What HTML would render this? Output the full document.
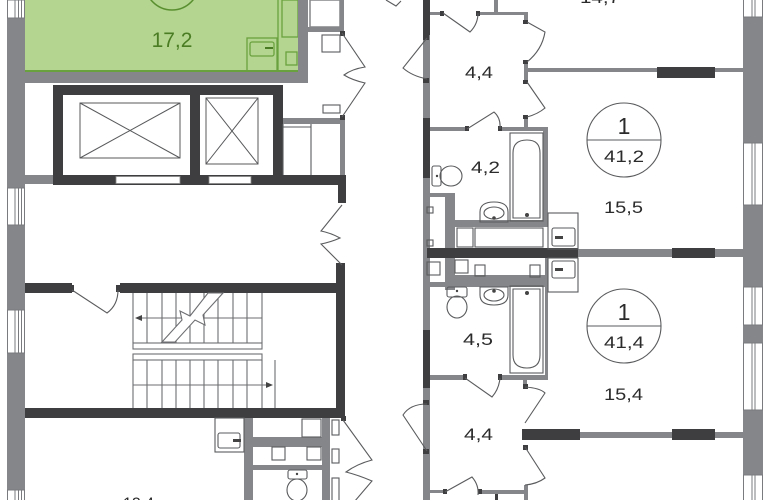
<!DOCTYPE html>
<html><head><meta charset="utf-8"><style>
html,body{margin:0;padding:0;background:#fff;}
svg{display:block;}
text{font-family:"Liberation Sans",Arial,sans-serif;}
</style></head><body>
<svg width="770" height="500" viewBox="0 0 770 500" xmlns="http://www.w3.org/2000/svg">
<rect width="770" height="500" fill="#fff"/>

<!-- GREEN ROOM -->
<rect x="23" y="0" width="277" height="72" fill="#b3d58f"/>
<path d="M24,0 V71 H300" fill="none" stroke="#6aa13f" stroke-width="2"/>
<circle cx="172" cy="-17" r="27" fill="none" stroke="#5a8f30" stroke-width="1.5"/>
<text x="172" y="47" font-size="21" text-anchor="middle" fill="#4a7c23">17,2</text>
<g fill="none" stroke="#6aa13f" stroke-width="1.3">
<line x1="278" y1="0" x2="278" y2="72"/>
<rect x="282" y="0" width="16" height="37"/>
<rect x="247" y="38" width="30" height="34"/>
<rect x="250" y="42" width="24" height="14" rx="2"/>
<rect x="286" y="52" width="11" height="13"/>
</g>
<line x1="265" y1="48" x2="273" y2="48" stroke="#4a7c23" stroke-width="2"/>

<!-- GREY WALLS -->
<g fill="#848689">
<rect x="7" y="0" width="18" height="500"/>
<rect x="23" y="72" width="285" height="11"/>
<rect x="298" y="0" width="10" height="83"/>
<rect x="308" y="27" width="35" height="5"/>
<rect x="340" y="0" width="4" height="33"/>
<rect x="25" y="175" width="37" height="9"/>
<rect x="283" y="118" width="62" height="6"/>
<rect x="340" y="118" width="5" height="57"/>
<!-- lower left bath walls -->
<rect x="244" y="418" width="9" height="82"/>
<rect x="322" y="418" width="8" height="82"/>
<rect x="253" y="437" width="69" height="10"/>
<rect x="253" y="465" width="69" height="5"/>
<!-- right apartments -->
<rect x="423" y="0" width="7" height="500"/>
<rect x="430" y="12" width="13" height="3"/>
<rect x="478" y="12" width="49" height="3"/>
<rect x="494" y="0" width="4" height="12"/>
<rect x="524" y="12" width="4" height="10"/>
<rect x="524" y="62" width="4" height="20"/>
<rect x="524" y="117" width="4" height="12"/>
<rect x="527" y="68" width="216" height="4"/>
<rect x="430" y="127" width="37" height="4"/>
<rect x="500" y="127" width="48" height="4"/>
<rect x="543" y="127" width="5" height="95"/>
<rect x="430" y="193" width="25" height="4"/>
<rect x="445" y="193" width="10" height="97"/>
<rect x="455" y="220" width="93" height="7"/>
<rect x="578" y="249" width="165" height="8"/>
<rect x="455" y="275" width="90" height="7"/>
<rect x="427" y="282" width="121" height="5"/>
<rect x="545" y="258" width="3" height="122"/>
<rect x="430" y="375" width="35" height="5"/>
<rect x="500" y="375" width="48" height="5"/>
<rect x="523" y="380" width="4" height="7"/>
<rect x="580" y="432" width="163" height="6"/>
<rect x="524" y="485" width="4" height="15"/>
<rect x="430" y="490" width="15" height="3"/>
<rect x="480" y="490" width="44" height="4"/>
<!-- right outer wall -->
<rect x="743" y="0" width="20" height="500"/>
</g>

<!-- WINDOWS -->
<g fill="#fff" stroke="#7a7b7e" stroke-width="1">
<rect x="7.5" y="0" width="17" height="18"/>
<rect x="7.5" y="188" width="17" height="37"/>
<rect x="7.5" y="310" width="17" height="43"/>
<rect x="7.5" y="490" width="17" height="12"/>
<rect x="743.5" y="-1" width="19" height="18"/>
<rect x="743.5" y="143" width="19" height="62"/>
<rect x="743.5" y="287" width="19" height="38"/>
<rect x="743.5" y="343" width="19" height="67"/>
<rect x="743.5" y="475" width="19" height="27"/>
</g>
<g stroke="#7a7b7e" stroke-width="1">
<path d="M15,0 V18 M18.5,0 V18 M21.5,0 V18 M15,188 V225 M18.5,188 V225 M21.5,188 V225 M15,310 V353 M18.5,310 V353 M21.5,310 V353 M15,490 V500 M18.5,490 V500 M21.5,490 V500"/>
<path d="M752,0 V17 M755,0 V17 M752,143 V205 M755,143 V205 M752,287 V325 M755,287 V325 M752,343 V410 M755,343 V410 M752,475 V500 M755,475 V500"/>
</g>

<!-- DARK WALLS -->
<g fill="#3e3e40">
<rect x="53" y="85" width="230" height="100"/>
<rect x="62" y="175" width="283" height="10"/>
<rect x="338" y="175" width="8" height="28"/>
<rect x="25" y="283" width="47" height="10"/>
<rect x="120" y="283" width="225" height="10"/>
<rect x="336" y="263" width="9" height="155"/>
<rect x="25" y="408" width="320" height="10"/>
<rect x="423" y="0" width="7" height="35"/>
<rect x="423" y="118" width="7" height="60"/>
<rect x="423" y="330" width="7" height="58"/>
<rect x="657" y="67" width="58" height="11"/>
<rect x="427" y="248" width="151" height="10"/>
<rect x="672" y="248" width="43" height="10"/>
<rect x="522" y="429" width="58" height="11"/>
<rect x="672" y="429" width="43" height="11"/>
<!-- hinges -->
<rect x="340" y="31" width="5" height="5"/>
<rect x="340" y="115" width="5" height="5"/>
<rect x="69" y="285" width="5" height="7"/>
<rect x="116" y="285" width="5" height="7"/>
<rect x="423" y="35" width="6" height="5"/>
<rect x="423" y="78" width="6" height="5"/>
<rect x="440" y="11" width="4" height="5"/>
<rect x="476" y="11" width="4" height="5"/>
<rect x="523" y="20" width="5" height="4"/>
<rect x="523" y="60" width="5" height="4"/>
<rect x="523" y="80" width="5" height="4"/>
<rect x="523" y="115" width="5" height="4"/>
<rect x="465" y="126" width="4" height="5"/>
<rect x="498" y="126" width="4" height="5"/>
<rect x="423" y="400" width="6" height="5"/>
<rect x="423" y="449" width="6" height="5"/>
<rect x="463" y="374" width="4" height="6"/>
<rect x="498" y="374" width="4" height="6"/>
<rect x="523" y="384" width="5" height="5"/>
<rect x="523" y="445" width="5" height="5"/>
<rect x="443" y="489" width="4" height="5"/>
<rect x="478" y="489" width="4" height="5"/>
<rect x="495" y="494" width="3" height="6"/>
<rect x="341" y="416" width="5" height="5"/>
</g>

<!-- ELEVATOR SHAFTS -->
<rect x="63" y="95" width="127" height="80" fill="#fff"/>
<rect x="200" y="95" width="73" height="80" fill="#fff"/>
<rect x="116" y="176.5" width="64" height="7" fill="#fff" stroke="#888" stroke-width=".8"/>
<rect x="209" y="176.5" width="42" height="7" fill="#fff" stroke="#888" stroke-width=".8"/>
<g stroke="#58595b" stroke-width="1" fill="none">
<rect x="80" y="103" width="100" height="55"/>
<path d="M80,103 L180,158 M180,103 L80,158"/>
<rect x="206" y="98" width="52" height="66"/>
<path d="M206,98 L258,164 M258,98 L206,164"/>
</g>

<!-- THIN LINES / FIXTURES -->
<g fill="none" stroke="#5a5b5d" stroke-width="1.1">
<rect x="310" y="0" width="30" height="27" stroke="#848689" stroke-width="1.5"/>
<rect x="322" y="35" width="18" height="17"/>
<rect x="323" y="105" width="17" height="8"/>
<line x1="283" y1="124" x2="283" y2="175"/>
<line x1="311" y1="124" x2="311" y2="175"/>
<line x1="283" y1="127" x2="311" y2="127"/>

<!-- double doors -->
<path d="M342,33 L365,67 Q352,69 344,75 Q352,80 365,83 L342,117"/>
<path d="M342,205 L321,231 Q331,233 340,238 Q331,242 321,244 L342,265"/>
<path d="M343,420 L372,460 Q357,464 346,472 Q358,475 372,481 L343,515"/>
<path d="M72,290 L107,313 Q118,305 118,290"/>
<path d="M386,0 L396,6 L401,1"/>

<!-- stairs -->
<g stroke="#6d6e71">
<path d="M133,293 V343 M147,293 V343 M162,293 V343 M176,293 V343 M190,293 V343 M204,293 V343 M218,293 V343 M233,293 V343 M247,293 V343 M262,293 V343"/>
<path d="M133,360 V408 M147,360 V408 M162,360 V408 M176,360 V408 M190,360 V408 M204,360 V408 M218,360 V408 M233,360 V408 M247,360 V408 M262,360 V408"/>
<path d="M137,318 H262 M133,385 H270 M275,360 V408"/>
<rect x="133" y="343" width="129" height="6"/>
<rect x="133" y="354" width="129" height="6"/>
</g>
<path d="M162,342 L182,320 L180,311 L190,316 L208,293 L223,293 L203,315 L205,325 L195,320 L175,342 Z" fill="#fff" stroke="#6d6e71"/>

<!-- lower-left bath -->
<rect x="215" y="418" width="29" height="34"/>
<rect x="218" y="433" width="22" height="15" rx="2"/>
<rect x="302" y="419" width="19" height="18"/>
<rect x="272" y="447" width="13" height="13"/>
<rect x="307" y="447" width="14" height="13"/>
<rect x="288" y="470" width="19" height="9" rx="2"/>
<ellipse cx="297" cy="490" rx="10" ry="11"/>
<rect x="332" y="420" width="7" height="15"/>
<rect x="332" y="449" width="7" height="14"/>
<rect x="332" y="478" width="7" height="24"/>

<!-- right apartment doors -->
<path d="M427,38 L403,68 Q412,76 427,79"/>
<path d="M443,13 L470,32 Q478,24 478,13"/>
<path d="M527,22 L545,32 Q542,50 527,62"/>
<path d="M527,82 L545,108 Q538,114 527,117"/>
<path d="M467,129 L494,112 Q501,118 500,129"/>
<path d="M427,404 Q410,404 403,415 L427,451"/>
<path d="M465,378 L492,397 Q499,389 500,378"/>
<path d="M525,387 Q540,388 545,393 L525,423"/>
<path d="M525,447 L545,478 Q537,484 525,485"/>
<path d="M445,492 L472,477 Q479,485 478,495"/>

<!-- bath 1 -->
<rect x="510" y="133" width="33" height="88"/>
<path d="M513,218 V153 Q513,140 527,140 Q540,140 540,153 V218 Z"/>
<rect x="432" y="166" width="9" height="20" rx="2"/>
<ellipse cx="451" cy="176" rx="11" ry="10"/>
<path d="M480,222 V212 Q480,202 494,202 Q508,202 508,212 V222 Z"/>
<ellipse cx="494" cy="213" rx="10" ry="6"/>
<rect x="427" y="207" width="6" height="6"/>
<rect x="427" y="240" width="6" height="6"/>
<rect x="457" y="228" width="16" height="19"/>
<rect x="475" y="228" width="68" height="19"/>
<rect x="548" y="213" width="30" height="36"/>
<rect x="552" y="228" width="23" height="18" rx="2"/>

<!-- below mid wall -->
<rect x="427" y="262" width="13" height="13"/>
<rect x="455" y="260" width="13" height="13"/>
<rect x="475" y="265" width="10" height="11"/>
<rect x="530" y="265" width="10" height="12"/>
<rect x="548" y="258" width="30" height="34"/>
<rect x="552" y="261" width="23" height="17" rx="2"/>

<!-- bath 2 -->
<rect x="510" y="286" width="33" height="87"/>
<path d="M513,289 H540 V355 Q540,368 527,368 Q513,368 513,355 Z"/>
<rect x="447" y="287" width="20" height="10" rx="2"/>
<ellipse cx="457" cy="307" rx="10" ry="11"/>
<path d="M480,287 H508 V295 Q508,305 494,305 Q480,305 480,295 Z"/>
<ellipse cx="494" cy="295" rx="10" ry="6"/>

<!-- circles -->
<circle cx="624" cy="140" r="37"/>
<line x1="587" y1="140" x2="661" y2="140"/>
<circle cx="624" cy="326" r="37"/>
<line x1="587" y1="326" x2="661" y2="326"/>
</g>

<!-- small dark details -->
<g fill="#444">
<circle cx="527" cy="215" r="2"/>
<circle cx="527" cy="293" r="2"/>
<circle cx="494" cy="218" r="1.8"/>
<circle cx="494" cy="291" r="1.8"/>
<circle cx="437" cy="176" r="1.2"/>
<circle cx="457" cy="291" r="1.2"/>
<circle cx="297" cy="474" r="1.2"/>
<rect x="233" y="439" width="8" height="3"/>
<rect x="555" y="236" width="8" height="3"/>
<rect x="555" y="268" width="8" height="3"/>
<path d="M135,318 L142,315 L142,321 Z"/>
<path d="M273,385 L266,382 L266,388 Z"/>
</g>

<!-- LABELS -->
<g font-size="17" fill="#2b2b2b" lengthAdjust="spacingAndGlyphs">
<text x="580" y="3" textLength="40" lengthAdjust="spacingAndGlyphs">14,7</text>
<text x="465" y="78" textLength="28" lengthAdjust="spacingAndGlyphs">4,4</text>
<text x="471" y="173" textLength="29" lengthAdjust="spacingAndGlyphs">4,2</text>
<text x="604" y="213" textLength="39" lengthAdjust="spacingAndGlyphs">15,5</text>
<text x="604" y="162" textLength="40" lengthAdjust="spacingAndGlyphs">41,2</text>
<text x="624" y="134" font-size="23" text-anchor="middle">1</text>
<text x="624" y="320" font-size="23" text-anchor="middle">1</text>
<text x="604" y="348" textLength="40" lengthAdjust="spacingAndGlyphs">41,4</text>
<text x="463" y="345" textLength="30" lengthAdjust="spacingAndGlyphs">4,5</text>
<text x="604" y="400" textLength="39" lengthAdjust="spacingAndGlyphs">15,4</text>
<text x="464" y="440" textLength="29" lengthAdjust="spacingAndGlyphs">4,4</text>
<text x="123" y="509" textLength="31" lengthAdjust="spacingAndGlyphs">18,4</text>
</g>
</svg>
</body></html>
